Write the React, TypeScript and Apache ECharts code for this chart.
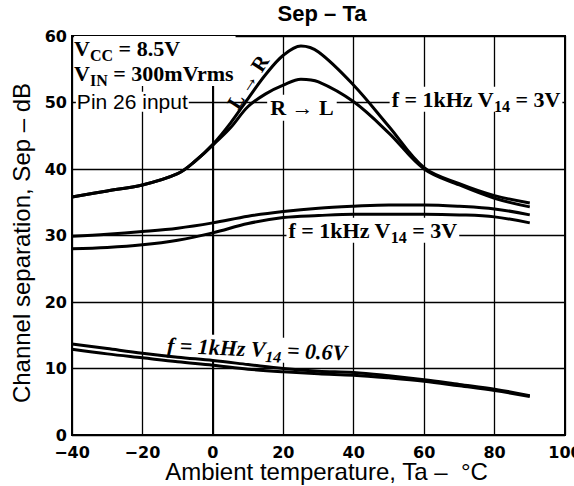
import React, { useEffect, useRef } from 'react';
import * as echarts from 'echarts';

// Ambient temperature (°C) sample points
const tempUpper = [-40, -30, -20, -10, -5, 0, 5, 10, 15, 20, 25, 30, 40, 50, 60, 70, 80, 90];
const sepLtoR = [35.8, 36.7, 37.6, 39.3, 41.2, 43.7, 46.9, 50.6, 54.2, 57.1, 58.5, 57.6, 52.6, 46.4, 40.2, 37.8, 36.0, 34.9];
const sepRtoL = [35.8, 36.7, 37.6, 39.3, 41.2, 43.6, 46.2, 49.4, 51.3, 52.6, 53.5, 53.1, 50.1, 45.4, 40.0, 37.6, 35.6, 34.3];

const tempMid = [-40, -30, -20, -10, 0, 10, 20, 30, 40, 50, 60, 70, 80, 90];
const sep3VA = [29.9, 30.2, 30.6, 31.1, 31.9, 32.9, 33.6, 34.1, 34.4, 34.6, 34.6, 34.4, 34.0, 33.1];
const sep3VB = [28.0, 28.2, 28.6, 29.3, 30.4, 31.8, 32.7, 33.0, 33.2, 33.2, 33.2, 33.1, 32.8, 31.9];

const tempLow = [-40, -30, -20, -10, 0, 10, 20, 30, 40, 50, 60, 70, 80, 90];
const sep06A = [13.7, 13.0, 12.3, 11.7, 11.2, 10.6, 10.0, 9.6, 9.4, 8.9, 8.3, 7.6, 6.9, 5.9];
const sep06B = [12.9, 12.2, 11.6, 11.0, 10.5, 9.9, 9.5, 9.2, 9.0, 8.6, 8.1, 7.4, 6.7, 5.8];

const xMin = -40;
const xMax = 100;
const xStep = 20;
const yMin = 0;
const yMax = 60;
const yStep = 10;

const SERIF = '"Liberation Serif", "Times New Roman", serif';
const SANS = '"Liberation Sans", Arial, sans-serif';
const TICK = '"DejaVu Sans", sans-serif';

export default function App() {
  const ref = useRef<HTMLDivElement>(null);
  useEffect(() => {
    const chart = echarts.init(ref.current!, null, { renderer: 'svg' });
    const pair = (xs: number[], ys: number[]) => xs.map((x, i) => [x, ys[i]]);
    const line = (name: string, xs: number[], ys: number[]) => ({
      type: 'line',
      name,
      data: pair(xs, ys),
      smooth: 0.35,
      symbol: 'none',
      showSymbol: false,
      silent: true,
      lineStyle: { color: '#000', width: 3 },
      z: 3,
    });
    const fmt = (v: number) => (v < 0 ? '\u2212' + Math.abs(v) : String(v));
    chart.setOption({
      animation: false,
      backgroundColor: '#fff',
      title: {
        text: 'Sep – Ta',
        left: 322,
        top: 2,
        padding: 0,
        textAlign: 'center',
        textStyle: { fontFamily: SANS, fontWeight: 'bold', fontSize: 22, color: '#000' },
      },
      grid: {
        left: 72,
        right: 9,
        top: 36,
        bottom: 51,
        containLabel: false,
        outerBoundsMode: 'none',
        show: true,
        borderColor: '#000',
        borderWidth: 2,
        backgroundColor: 'transparent',
      },
      xAxis: {
        type: 'value',
        min: xMin,
        max: xMax,
        interval: xStep,
        name: 'Ambient temperature, Ta –  °C',
        nameLocation: 'middle',
        nameGap: 25,
        nameMoveOverlap: false,
        nameTextStyle: { fontFamily: SANS, fontSize: 24, lineHeight: 22, color: '#000', padding: [0, 0, 0, 16] },
        axisLine: { show: true, lineStyle: { color: '#000', width: 2 } },
        axisTick: { show: false },
        axisLabel: { fontFamily: TICK, fontWeight: 'bold', fontSize: 16, lineHeight: 14, color: '#000', margin: 10, formatter: fmt },
        splitLine: { show: true, lineStyle: { color: '#000', width: 1.3 } },
      },
      yAxis: {
        type: 'value',
        min: yMin,
        max: yMax,
        interval: yStep,
        axisLine: { show: true, lineStyle: { color: '#000', width: 2 } },
        axisTick: { show: false },
        axisLabel: { fontFamily: TICK, fontWeight: 'bold', fontSize: 16, lineHeight: 14, color: '#000', margin: 5, formatter: fmt },
        splitLine: { show: true, lineStyle: { color: '#000', width: 1.3 } },
      },
      series: [
        line('L→R', tempUpper, sepLtoR),
        line('R→L', tempUpper, sepRtoL),
        line('3V a', tempMid, sep3VA),
        line('3V b', tempMid, sep3VB),
        line('0.6V a', tempLow, sep06A),
        line('0.6V b', tempLow, sep06B),
      ],
    });

    const p = (x: number, y: number) => chart.convertToPixel({ gridIndex: 0 }, [x, y]) as number[];
    const m = { fontFamily: SERIF, fontWeight: 'bold', fontSize: 22, lineHeight: 25, fill: '#000' };
    const s = { fontFamily: SERIF, fontWeight: 'bold', fontSize: 16, lineHeight: 10, padding: [14, 0, 0, 0], fill: '#000' };
    const mi = { ...m, fontStyle: 'italic', fontSize: 22 };
    const si = { ...s, fontStyle: 'italic', fontSize: 16 };

    const a1 = p(-39.4, 60.0);
    const a2 = p(-38.9, 50.1);
    const a3 = p(10.0, 53.1);
    const a4 = p(25.3, 49.2);
    const a5 = p(50.2, 50.5);
    const a6 = p(20.9, 30.8);
    const a7 = p(-13.6, 13.5);

    const base = { type: 'text', z: 1 };
    chart.setOption({
      graphic: [
        {
          type: 'text', x: 21, y: 243, rotation: Math.PI / 2, z: 1,
          style: {
            text: 'Channel separation, Sep – dB', fontFamily: SANS, fontSize: 24, fill: '#000',
            align: 'center', verticalAlign: 'middle',
          },
        },
        {
          ...base, x: a1[0], y: a1[1],
          style: {
            text: '{m|V}{s|CC}{m| = 8.5V}\n{m|V}{s|IN}{m| = 300mVrms}',
            rich: { m, s }, align: 'left', verticalAlign: 'top',
            backgroundColor: '#fff', padding: [0, 2, 0, 0],
          },
        },
        {
          ...base, x: a2[0], y: a2[1],
          style: {
            text: 'Pin 26 input', fontFamily: SANS, fontSize: 21, lineHeight: 20, fill: '#000',
            align: 'left', verticalAlign: 'middle', backgroundColor: '#fff', padding: [0, 1, 0, 1],
          },
        },
        {
          ...base, x: a3[0], y: a3[1], z: 5, rotation: 1.0,
          style: {
            text: 'L → R', fontFamily: SERIF, fontWeight: 'bold', fontSize: 21, fill: '#000',
            align: 'center', verticalAlign: 'middle',
          },
        },
        {
          ...base, x: a4[0], y: a4[1],
          style: {
            text: 'R → L', fontFamily: SERIF, fontWeight: 'bold', fontSize: 22, fill: '#000',
            align: 'center', verticalAlign: 'middle', backgroundColor: '#fff', padding: [2, 3, 2, 3],
          },
        },
        {
          ...base, x: a5[0], y: a5[1],
          style: {
            text: '{m|f = 1kHz V}{s|14}{m| = 3V}', rich: { m, s },
            align: 'left', verticalAlign: 'middle', backgroundColor: '#fff', padding: [0, 2, 0, 2],
          },
        },
        {
          ...base, x: a6[0], y: a6[1],
          style: {
            text: '{m|f = 1kHz V}{s|14}{m| = 3V}', rich: { m, s },
            align: 'left', verticalAlign: 'middle', backgroundColor: '#fff', padding: [0, 2, 0, 2],
          },
        },
        {
          ...base, x: a7[0], y: a7[1], rotation: -0.042,
          style: {
            text: '{m|f = 1kHz V}{s|14}{m| = 0.6V}', rich: { m: mi, s: si },
            align: 'left', verticalAlign: 'middle', backgroundColor: '#fff', padding: [0, 2, 0, 2],
          },
        },
      ],
    });
    return () => chart.dispose();
  }, []);
  return <div ref={ref} style={{ position: 'absolute', left: 0, top: 0, width: 574, height: 486 }} />;
}
